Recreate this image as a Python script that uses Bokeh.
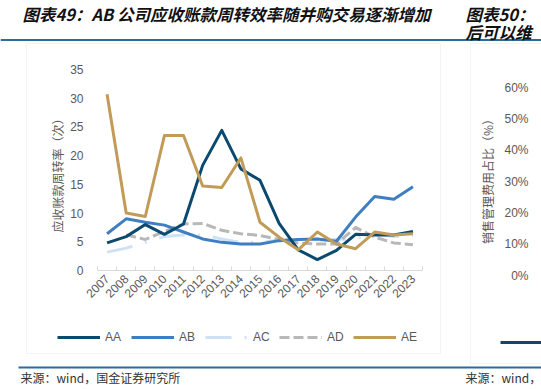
import math
from bokeh.plotting import figure
from bokeh.models import (ColumnDataSource, FixedTicker, Label, BoxAnnotation,
                          Legend, LegendItem, Range1d)
from bokeh.embed import file_html
from bokeh.resources import INLINE

nan = float("nan")

# ---------------- data ----------------
years = list(range(2007, 2024))
aa = [4.8, 5.9, 8.0, 6.3, 8.1, 18.3, 24.4, 17.7, 15.7, 8.2, 3.6, 1.9, 3.5, 6.3, 6.2, 6.2, 6.8]
ab = [6.4, 9.0, 8.4, 7.9, 6.7, 5.5, 4.9, 4.6, 4.6, 5.2, 5.4, 5.5, 5.1, 9.3, 12.9, 12.4, 14.6]
ac = [3.2, 3.9, 4.9, 5.9, 6.2, 6.2, 5.5, 4.9, 4.9, 5.3, 5.5, 5.3, 5.4, 5.5, 6.4, 5.9, 6.1]
ad = [nan, 6.2, 5.4, 6.8, 8.1, 8.2, 7.0, 6.4, 6.1, 5.4, 4.8, 4.6, 4.6, 7.5, 5.8, 4.8, 4.5]
ae = [30.7, 10.0, 9.4, 23.5, 23.5, 14.7, 14.45, 19.6, 8.4, 5.8, 3.6, 6.7, 4.6, 3.8, 6.7, 6.2, 6.4]
series_names = ["AA", "AB", "AC", "AD", "AE"]
y_ticks = [0, 5, 10, 15, 20, 25, 30, 35]

title_text = "图表49：AB 公司应收账款周转效率随并购交易逐渐增加"
y_label_text = "应收账款周转率（次）"
source_text = "来源：wind，国金证券研究所"

# partially visible neighbouring chart (only the part inside the window)
right_title_1 = "图表50："
right_title_2 = "后可以维"
right_y_label = "销售管理费用占比（%）"
right_ticks = [0, 10, 20, 30, 40, 50, 60]
right_source = "来源：wind，"

# ---------------- styles ----------------
colors = {"AA": "#0b4a6e", "AB": "#3f7fc1", "AC": "#cfe2f5", "AD": "#b8b8b8", "AE": "#c19b57"}
dashes = {"AA": "solid", "AB": "solid", "AC": "26 13 2 13", "AD": "10 4", "AE": "solid"}
GRAY = "#595959"
LATIN = "Liberation Sans"
CJK = "Noto Sans CJK SC"

W, H = 541, 389
# plot area inside the canvas (canvas pixels)
PL, PR, PT, PB = 97, 422, 69, 270
x0, x1 = years[0] - 0.5, years[-1] + 0.5
y0, y1 = y_ticks[0], y_ticks[-1]
kx = (x1 - x0) / (PR - PL)
ky = (y1 - y0) / (PB - PT)
xr = Range1d(x0 - PL * kx, x1 + (W - PR) * kx)
yr = Range1d(y0 - (H - PB) * ky, y1 + PT * ky)

p = figure(width=W, height=H, output_backend="svg", toolbar_location=None, tools="",
           x_range=xr, y_range=yr,
           min_border_left=0, min_border_right=0, min_border_top=0, min_border_bottom=0)
p.outline_line_color = None
p.xgrid.visible = False
p.ygrid.visible = False
p.background_fill_color = "white"
p.border_fill_color = "white"

src = ColumnDataSource(dict(year=years, AA=aa, AB=ab, AC=ac, AD=ad, AE=ae))
renderers = {}
for name in ["AC", "AD", "AB", "AA", "AE"]:
    renderers[name] = p.line("year", name, source=src, line_color=colors[name], line_width=3,
                             line_dash=dashes[name], line_join="round")

# x axis (pinned at y = 0)
xa = p.xaxis[0]
xa.fixed_location = y0
xa.bounds = (x0, x1)
xa.ticker = FixedTicker(ticks=years, minor_ticks=[y - 0.5 for y in years] + [x1])
xa.axis_line_color = "#d9d9d9"
xa.major_tick_line_color = None
xa.major_tick_out = 0
xa.major_tick_in = 0
xa.minor_tick_line_color = "#d9d9d9"
xa.minor_tick_in = 4
xa.minor_tick_out = 0
xa.major_label_orientation = math.pi / 4
xa.major_label_standoff = 6
xa.major_label_text_font = LATIN
xa.major_label_text_font_size = "12px"
xa.major_label_text_color = GRAY

# y axis (pinned at left edge of the plot area)
ya = p.yaxis[0]
ya.fixed_location = x0
ya.bounds = (y0, y1)
ya.ticker = FixedTicker(ticks=y_ticks)
ya.axis_line_color = None
ya.major_tick_line_color = None
ya.minor_tick_line_color = None
ya.major_tick_out = 0
ya.major_label_standoff = 14
ya.major_label_text_font = LATIN
ya.major_label_text_font_size = "12px"
ya.major_label_text_color = GRAY

# helpers: reference-pixel -> canvas screen coords (y measured from bottom)
def fx(x):
    return x

def fy(y):
    return H - y

# legend
legend = Legend(items=[LegendItem(label=n, renderers=[renderers[n]]) for n in series_names],
                orientation="horizontal", location=(fx(57), fy(344)),
                glyph_width=43, glyph_height=14, label_height=14, label_standoff=5,
                spacing=6, padding=0, margin=0, border_line_color=None,
                background_fill_alpha=0, label_text_font=LATIN,
                label_text_font_size="12px", label_text_color=GRAY)
p.add_layout(legend)

def box(l, r, t, b, **kw):
    p.add_layout(BoxAnnotation(left=fx(l), right=fx(r), top=fy(t), bottom=fy(b),
                               left_units="screen", right_units="screen",
                               top_units="screen", bottom_units="screen", **kw))

# chart boxes
box(26, 440, 43, 353, fill_alpha=0, line_color="#d9d9d9", line_width=1)
box(470, 560, 43, 363, fill_alpha=0, line_color="#d9d9d9", line_width=1)
# rules
box(0, 560, 38.5, 40.5, fill_color="#2f6b98", fill_alpha=1, line_color=None)
box(18, 560, 366, 368, fill_color="#2f6b98", fill_alpha=1, line_color=None)
# right chart legend stroke
box(500, 560, 340.5, 343.5, fill_color=colors["AA"], fill_alpha=1, line_color=None)

def label(text, x, y, font=CJK, size="12px", color=GRAY, align="left", angle=0, style="normal"):
    p.add_layout(Label(x=fx(x), y=fy(y), x_units="screen", y_units="screen", text=text,
                       text_font=font, text_font_size=size, text_color=color,
                       text_align=align, text_baseline="middle", angle=angle,
                       text_font_style=style))

label(title_text, 22, 13, size="16.5px", color="#111111", style="bold italic")
label(y_label_text, 57, 172, align="center", angle=math.pi / 2)
label(source_text, 20, 377, color="#333333")

label(right_title_1, 465, 13, size="16.5px", color="#111111", style="bold italic")
label(right_title_2, 465, 31, size="16.5px", color="#111111", style="bold italic")
label(right_y_label, 487, 178, align="center", angle=math.pi / 2)
for v in right_ticks:
    label(f"{v}%", 528, 275 - v * 188 / 60, font=LATIN, align="right")
label(right_source, 465, 377, color="#333333")

open("out.html", "w").write(file_html(p, INLINE))
